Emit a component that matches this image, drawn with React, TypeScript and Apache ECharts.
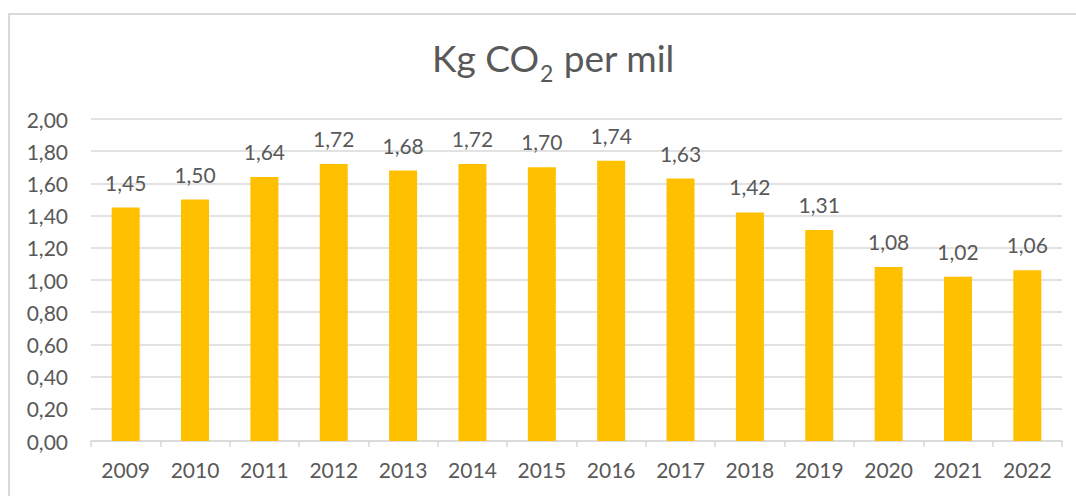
import React, { useEffect, useRef } from "react";
import * as echarts from "echarts";

const years = ["2009", "2010", "2011", "2012", "2013", "2014", "2015", "2016", "2017", "2018", "2019", "2020", "2021", "2022"];
const values = [1.45, 1.5, 1.64, 1.72, 1.68, 1.72, 1.7, 1.74, 1.63, 1.42, 1.31, 1.08, 1.02, 1.06];
const titleMain = "Kg CO";
const titleSub = "2";
const titleRest = " per mil";

const FONT = "Lato, 'Open Sans', sans-serif";
const TXT = "#595959";

export default function App() {
  const ref = useRef<HTMLDivElement>(null);
  useEffect(() => {
    if (!ref.current) return;
    const chart = echarts.init(ref.current, null, { renderer: "svg" });
    const fmt = (v: number) => v.toFixed(2).replace(".", ",");
    chart.setOption({
      animation: false,
      backgroundColor: "#ffffff",
      title: {
        text: `{a|${titleMain}}{b|${titleSub}}{a|${titleRest}}`,
        left: 427,
        top: 26,
        textStyle: {
          rich: {
            a: { fontFamily: FONT, fontSize: 37, fontWeight: "normal", color: TXT },
            b: { fontFamily: FONT, fontSize: 23, fontWeight: "normal", color: TXT, padding: [30, 1, 0, 1] },
          },
        },
      },
      graphic: [
        {
          type: "rect",
          shape: { x: 9, y: 14, width: 1200, height: 600 },
          style: { fill: "none", stroke: "#d9d9d9", lineWidth: 2 },
          silent: true,
        },
      ],
      grid: { left: 91, right: 14, top: 119, bottom: 55, containLabel: false },
      xAxis: {
        type: "category",
        data: years,
        axisLine: { lineStyle: { color: "#d9d9d9", width: 1.5 } },
        axisTick: { show: true, length: 6, lineStyle: { color: "#d9d9d9", width: 1.5 } },
        axisLabel: { color: TXT, fontFamily: FONT, fontSize: 21, margin: 18 },
      },
      yAxis: {
        type: "value",
        min: 0,
        max: 2,
        interval: 0.2,
        axisLine: { show: false },
        axisTick: { show: false },
        splitLine: { lineStyle: { color: "#d9d9d9", width: 1.5 } },
        axisLabel: { color: TXT, fontFamily: FONT, fontSize: 21, margin: 23, formatter: fmt },
      },
      series: [
        {
          type: "bar",
          data: values,
          barWidth: 28,
          itemStyle: { color: "#FFC000" },
          label: {
            show: true,
            position: "top",
            distance: 15,
            color: TXT,
            fontFamily: FONT,
            fontSize: 21,
            formatter: (p: any) => fmt(p.value),
          },
        },
      ],
    });
    return () => chart.dispose();
  }, []);
  return (
    <div
      ref={ref}
      style={{ position: "fixed", left: 0, top: 0, width: 1076, height: 496 }}
    />
  );
}
